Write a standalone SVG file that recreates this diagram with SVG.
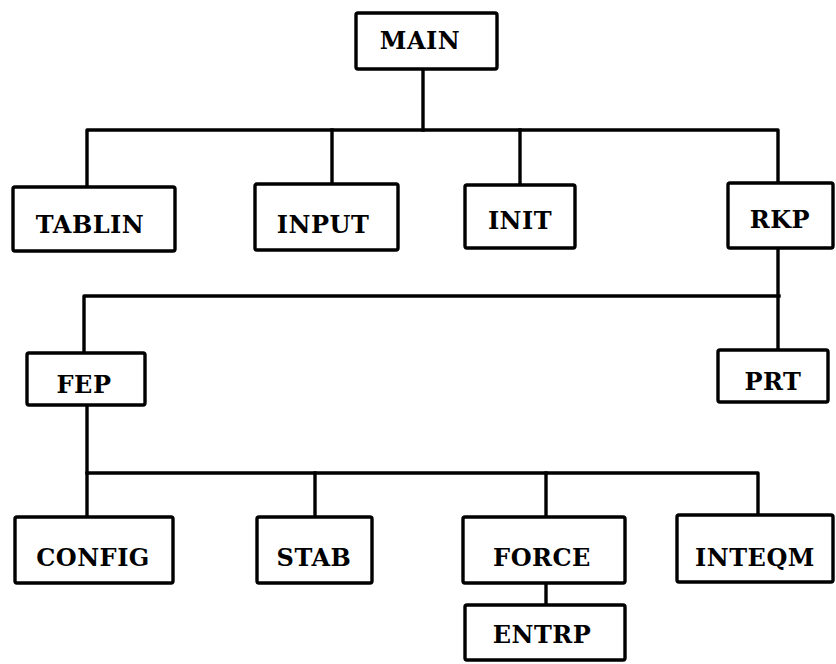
<svg xmlns="http://www.w3.org/2000/svg" width="836" height="664" viewBox="0 0 836 664">
<style>
.box{fill:#fff;stroke:#000;stroke-width:3.4;stroke-linejoin:round}
.lbl{font-family:"DejaVu Serif","Liberation Serif",serif;font-weight:bold;font-size:24px;letter-spacing:0.5px;fill:#000;text-anchor:middle}
.con{fill:none;stroke:#000;stroke-width:3.4;stroke-linejoin:round;stroke-linecap:square}
</style>
<rect width="836" height="664" fill="#fff"/>
<g id="connectors">
<path class="con" d="M423 69 V130"/>
<path class="con" d="M87 187 V130 H778 V183"/>
<path class="con" d="M332 130 V184"/>
<path class="con" d="M520 130 V185"/>
<path class="con" d="M778 248 V350"/>
<path class="con" d="M84 353 V296 H779"/>
<path class="con" d="M87 405 V517"/>
<path class="con" d="M87 473 H758 V515"/>
<path class="con" d="M315 473 V517"/>
<path class="con" d="M546 473 V517"/>
<path class="con" d="M546 583 V605"/>
</g>
<g id="MAIN"><rect class="box" x="356" y="13" width="141" height="56" rx="2"/><text class="lbl" x="420" y="49">MAIN</text></g>
<g id="TABLIN"><rect class="box" x="13" y="187" width="162" height="64" rx="2"/><text class="lbl" x="90" y="233">TABLIN</text></g>
<g id="INPUT"><rect class="box" x="255" y="184" width="143" height="66" rx="2"/><text class="lbl" x="323" y="233">INPUT</text></g>
<g id="INIT"><rect class="box" x="465" y="185" width="110" height="63" rx="2"/><text class="lbl" x="520" y="229">INIT</text></g>
<g id="RKP"><rect class="box" x="728" y="183" width="105" height="65" rx="2"/><text class="lbl" x="780" y="228">RKP</text></g>
<g id="FEP"><rect class="box" x="27" y="353" width="118" height="52" rx="2"/><text class="lbl" x="84" y="393">FEP</text></g>
<g id="PRT"><rect class="box" x="718" y="350" width="110" height="52" rx="2"/><text class="lbl" x="773" y="390">PRT</text></g>
<g id="CONFIG"><rect class="box" x="15" y="517" width="158" height="66" rx="2"/><text class="lbl" x="93" y="566">CONFIG</text></g>
<g id="STAB"><rect class="box" x="257" y="517" width="115" height="66" rx="2"/><text class="lbl" x="314" y="566">STAB</text></g>
<g id="FORCE"><rect class="box" x="463" y="517" width="162" height="66" rx="2"/><text class="lbl" x="542" y="566">FORCE</text></g>
<g id="INTEQM"><rect class="box" x="677" y="515" width="156" height="67" rx="2"/><text class="lbl" x="755" y="566">INTEQM</text></g>
<g id="ENTRP"><rect class="box" x="465" y="605" width="160" height="55" rx="2"/><text class="lbl" x="542" y="643">ENTRP</text></g>
</svg>
